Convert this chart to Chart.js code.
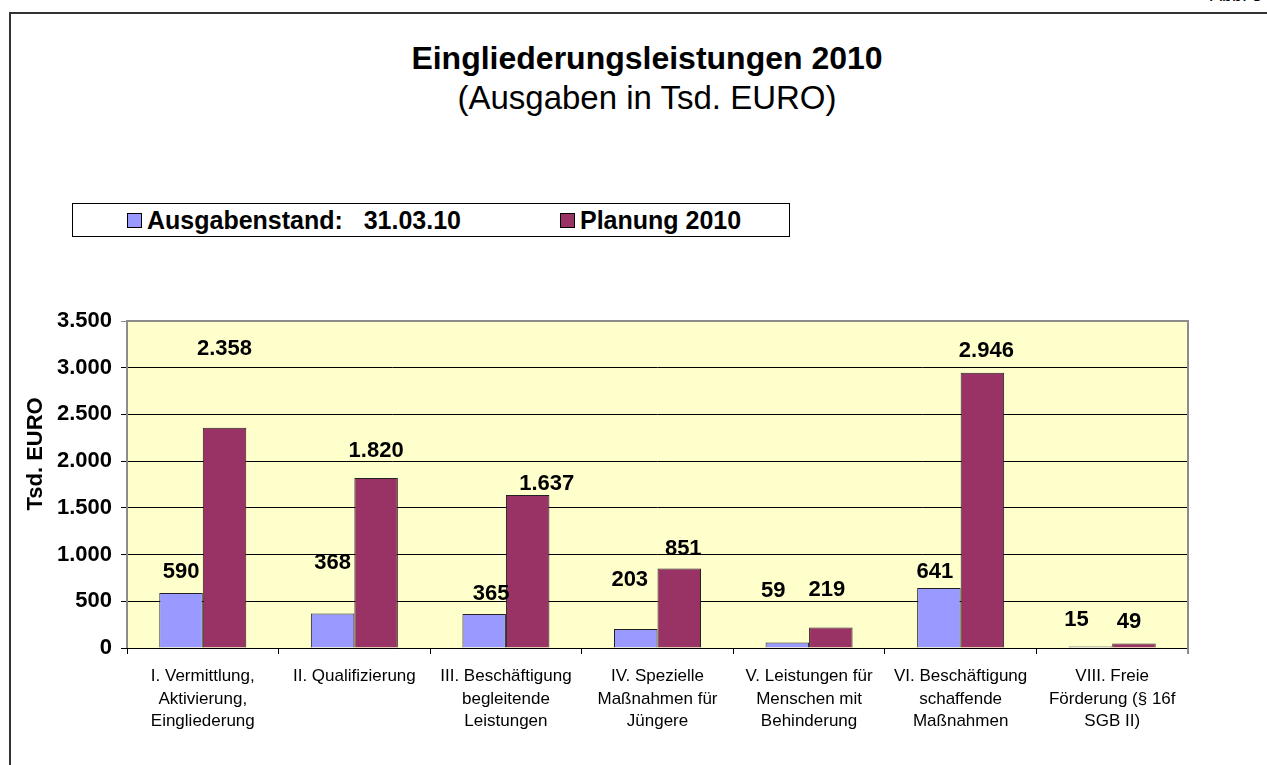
<!DOCTYPE html>
<html lang="de">
<head>
<meta charset="utf-8">
<title>Eingliederungsleistungen 2010</title>
<script src="https://cdn.jsdelivr.net/npm/chart.js@4.4.1/dist/chart.umd.min.js"></script>
<style>
  html,body{margin:0;padding:0;background:#fff;overflow:hidden}
  body{width:1267px;height:765px;position:relative;font-family:"Liberation Sans",Arial,sans-serif}
  #frame{position:absolute;left:9px;top:12px;width:1300px;height:800px;border:2px solid #333;box-sizing:border-box}
  #abb{position:absolute;right:5px;top:-15px;font-size:18px;color:#000}
  #title{position:absolute;left:0;width:1294px;top:39px;text-align:center;font-size:33px;line-height:39px;color:#000}
  #title b{display:block;font-size:32px}
  #legend{position:absolute;left:72px;top:203px;width:718px;height:34px;border:1px solid #000;box-sizing:border-box;background:#fff}
  #legend .it{position:absolute;top:0;height:32px;display:flex;align-items:center;font-weight:bold;font-size:25px;white-space:pre}
  #legend .sw{width:13px;height:13px;border:1px solid #000;margin-right:5px}
  canvas{position:absolute;left:0;top:0}
</style>
</head>
<body>
<div id="frame"></div>
<div id="abb">Abb. 3</div>
<div id="title"><b>Eingliederungsleistungen 2010</b>(Ausgaben in Tsd. EURO)</div>
<div id="legend"></div>
<canvas id="c" width="1267" height="765"></canvas>
<script>
const categories=[
  ['I. Vermittlung,','Aktivierung,','Eingliederung'],
  ['II. Qualifizierung'],
  ['III. Beschäftigung','begleitende','Leistungen'],
  ['IV. Spezielle','Maßnahmen für','Jüngere'],
  ['V. Leistungen für','Menschen mit','Behinderung'],
  ['VI. Beschäftigung','schaffende','Maßnahmen'],
  ['VIII. Freie','Förderung (§ 16f','SGB II)']
];
const seriesNames=['Ausgabenstand:   31.03.10','Planung 2010'];
const ausgabenstand=[590,368,365,203,59,641,15];
const planung=[2358,1820,1637,851,219,2946,49];
const yTicks=[0,500,1000,1500,2000,2500,3000,3500];

// label placement tweaks (px), as placed by hand in the original
const liftA=[21,51,20,49,52,16,27], shiftA=[0,0,7,-6,-14,-4,-14];
const liftB=[79,27,11,20,38,22,21], shiftB=[0,0,19,4,-4,4,-5];

const fmt=v=>String(v).replace(/\B(?=(\d{3})+(?!\d))/g,'.');
const FONT='"Liberation Sans", Arial, sans-serif';

const plotBg={id:'plotBg',
  beforeDraw(ch){const a=ch.chartArea,c=ch.ctx;c.save();c.fillStyle='#FFFFCC';c.fillRect(a.left,a.top,a.right-a.left,a.bottom-a.top);c.restore();},
  afterDraw(ch){const a=ch.chartArea,c=ch.ctx;c.save();c.strokeStyle='#8c8c8c';c.lineWidth=2;
    c.beginPath();c.moveTo(a.left,a.bottom);c.lineTo(a.left,a.top);c.lineTo(a.right,a.top);c.lineTo(a.right,a.bottom+6);c.stroke();c.restore();}
};
const valueLabels={id:'valueLabels',
  afterDatasetsDraw(ch){const c=ch.ctx;c.save();c.font='bold 22px '+FONT;c.fillStyle='#000';c.textAlign='center';c.textBaseline='middle';
    ch.data.datasets.forEach((ds,i)=>{const m=ch.getDatasetMeta(i);
      m.data.forEach((el,j)=>{c.fillText(fmt(ds.data[j]),el.x+ds.shift[j],el.y-ds.lift[j]);});});
    c.restore();}
};

const chart=new Chart(document.getElementById('c'),{
  type:'bar',
  data:{labels:categories,datasets:[
    {label:seriesNames[0],data:ausgabenstand,backgroundColor:'#9999FF',borderColor:'#222',borderWidth:1,lift:liftA,shift:shiftA},
    {label:seriesNames[1],data:planung,backgroundColor:'#993366',borderColor:'#222',borderWidth:1,lift:liftB,shift:shiftB}
  ]},
  options:{
    responsive:false,animation:false,devicePixelRatio:1,
    layout:{padding:{left:20,right:79,top:321,bottom:0}},
    datasets:{bar:{categoryPercentage:0.574,barPercentage:1}},
    plugins:{legend:{display:false},tooltip:{enabled:false},title:{display:false}},
    scales:{
      x:{offset:true,
        grid:{display:true,drawOnChartArea:false,drawTicks:true,tickLength:6,color:'#000',offset:true},
        border:{display:true,color:'#000',width:1},
        ticks:{color:'#000',font:{family:FONT,size:17,lineHeight:1.33},padding:11,maxRotation:0,autoSkip:false},
        afterFit(s){s.height=117;}
      },
      y:{min:0,max:3500,
        afterBuildTicks(s){s.ticks=yTicks.map(v=>({value:v}));},
        grid:{color:ctx=>ctx.tick&&ctx.tick.value===3500?'#8c8c8c':'#000',tickColor:ctx=>ctx.tick&&ctx.tick.value===3500?'#8c8c8c':'#000',tickLength:6,lineWidth:1},
        border:{display:false},
        ticks:{color:'#000',font:{family:FONT,size:22,weight:'bold'},padding:9,callback:v=>fmt(v)},
        title:{display:true,text:'          Tsd. EURO',color:'#000',font:{family:FONT,size:22,weight:'bold'},padding:{top:3,bottom:4}},
        afterFit(s){s.width=107;}
      }
    }
  },
  plugins:[plotBg,valueLabels]
});

// legend built from the chart's datasets
const lg=document.getElementById('legend');
const lefts=[54,487];
chart.data.datasets.forEach((ds,i)=>{
  const it=document.createElement('div');it.className='it';it.style.left=lefts[i]+'px';
  const sw=document.createElement('span');sw.className='sw';sw.style.background=ds.backgroundColor;
  const tx=document.createElement('span');tx.textContent=ds.label;
  it.append(sw,tx);lg.append(it);
});
</script>
</body>
</html>
